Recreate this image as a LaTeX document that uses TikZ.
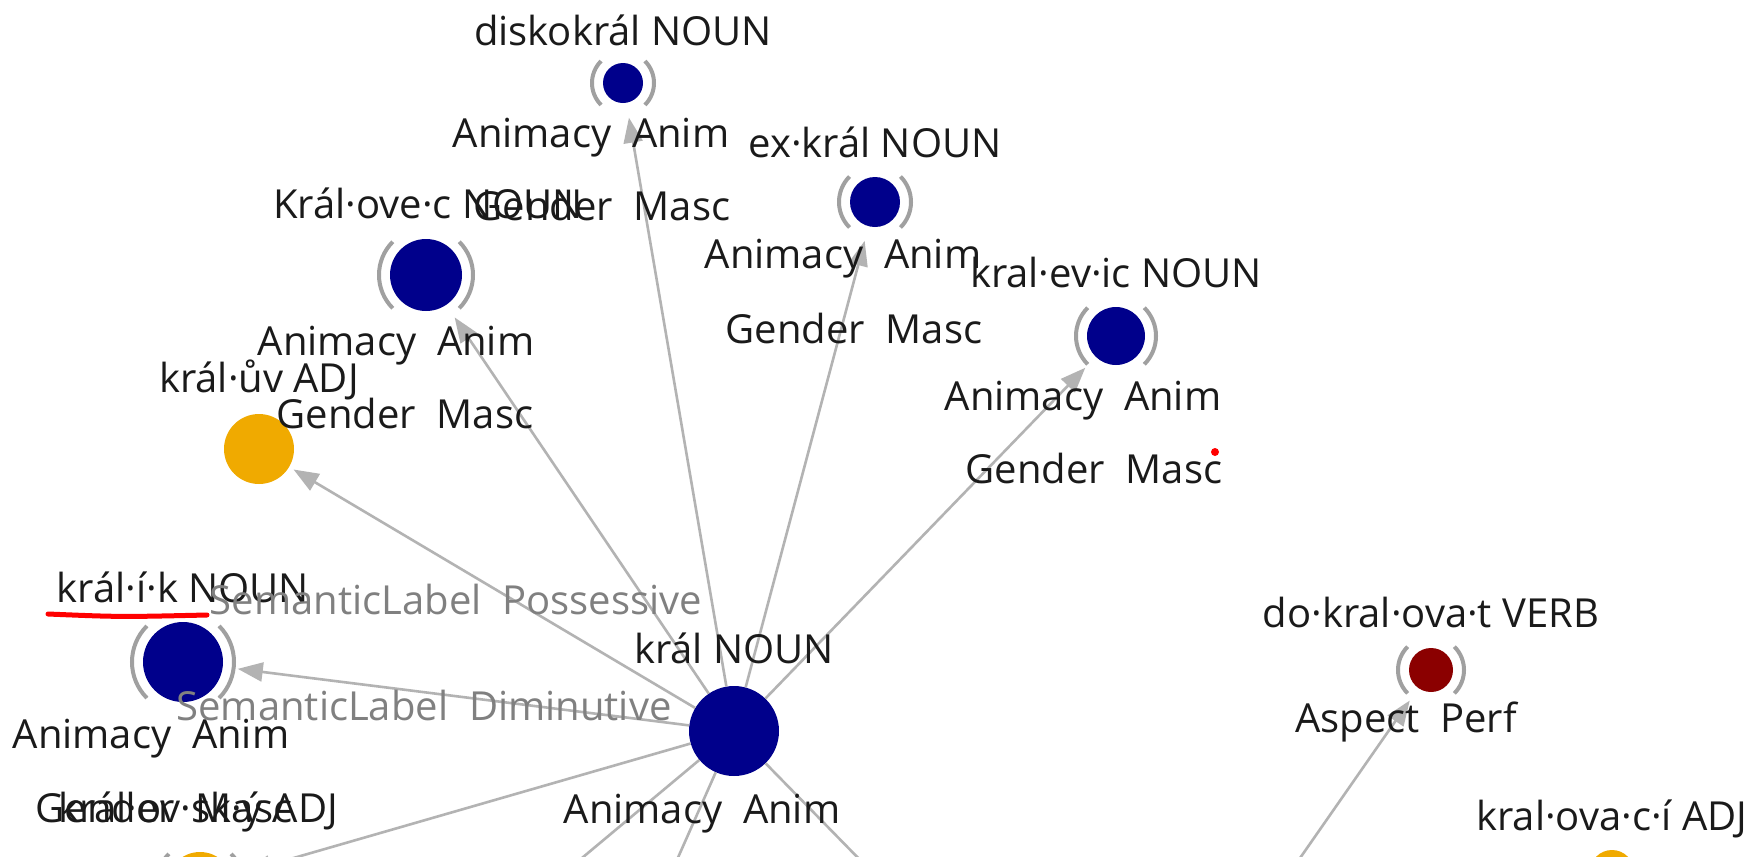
\documentclass[tikz,border=0pt]{standalone}
\usepackage{fontspec}
\setmainfont{Open Sans}
\usetikzlibrary{arrows.meta}
\definecolor{navy}{HTML}{00008B}
\definecolor{dred}{HTML}{8B0000}
\definecolor{gold}{HTML}{F0AA00}
\definecolor{edgec}{HTML}{B3B3B3}
\definecolor{brkc}{HTML}{A0A0A0}
\definecolor{semc}{HTML}{808080}
\definecolor{txtc}{HTML}{1A1A1A}
\newcommand\Vx[6]{%
  \node[circle, inner sep=0pt, minimum size=#6pt] (#1) at (#2,#3) {};
  \fill[#5] (#1.center) circle[radius=#4pt];
}
\newcommand\Bk[2]{%
  \draw[brk] (#1.center) ++(135:#2pt) arc[start angle=135, end angle=225, radius=#2pt];
  \draw[brk] (#1.center) ++(-45:#2pt) arc[start angle=-45, end angle=45, radius=#2pt];
}
\begin{document}
\begin{tikzpicture}[x=1pt,y=-1pt,
  lbl/.style={anchor=base, inner sep=0pt, text=txtc, font=\fontsize{40}{45}\selectfont},
  sem/.style={lbl, text=semc},
  edge/.style={draw=edgec, line width=2.6pt, -{Triangle[length=25pt,width=19pt]}},
  brk/.style={draw=brkc, line width=4pt},
]
\useasboundingbox (0,0) rectangle (1757,857);
\clip (0,0) rectangle (1757,857);
\fill[white] (0,0) rectangle (1757,857);

% nodes
\Vx{kral}{734}{731}{45}{navy}{90}
\Vx{disko}{623}{83}{20}{navy}{70}
\Vx{kralovec}{426}{275}{36}{navy}{102}
\Vx{kraluv}{259}{449}{35}{gold}{80}
\Vx{exkral}{875}{202}{25}{navy}{80}
\Vx{kralevic}{1116}{336}{29}{navy}{88}
\Vx{kralik}{183}{662}{40}{navy}{110}
\Vx{dokral}{1431}{670}{22}{dred}{74}
\Vx{kralov}{200}{885}{33}{gold}{96}
\Vx{kralovaci}{1612}{872}{22}{gold}{74}

\Bk{disko}{31}
\Bk{kralovec}{47}
\Bk{exkral}{36}
\Bk{kralevic}{40}
\Bk{kralik}{51}
\Bk{dokral}{33}
\Bk{kralov}{44}

% off-frame ends
\coordinate (offA) at (412,1000);
\coordinate (offB) at (615,1000);
\coordinate (offC) at (997,1000);
\coordinate (offD) at (1236,950);

% edges
\draw[edge] (kral) -- (disko);
\draw[edge] (kral) -- (kralovec);
\draw[edge] (kral) -- (exkral);
\draw[edge] (kral) -- (kralevic);
\draw[edge] (kral) -- (kraluv);
\draw[edge] (kral) -- (kralik);
\draw[edge] (kral) -- (kralov);
\draw[edge] (kral) -- (offA);
\draw[edge] (kral) -- (offB);
\draw[edge] (kral) -- (offC);
\draw[edge] (offD) -- (dokral);

% labels
\node[lbl] (t1) at (623,45) {diskokrál NOUN};
\node[lbl] (t2) at (591,147) {Animacy\ \ Anim};
\node[lbl] (t3) at (602,220) {Gender\ \ Masc};
\node[lbl] (t4) at (428,218) {Král·ove·c NOUN};
\node[lbl] (t5) at (396,355) {Animacy\ \ Anim};
\node[lbl] (t6) at (405,428) {Gender\ \ Masc};
\node[lbl] (t7) at (259,392) {král·ův ADJ};
\node[lbl] (t8) at (875,157) {ex·král NOUN};
\node[lbl] (t9) at (843,268) {Animacy\ \ Anim};
\node[lbl] (t10) at (854,343) {Gender\ \ Masc};
\node[lbl] (t11) at (1116,287) {kral·ev·ic NOUN};
\node[lbl] (t12) at (1083,410) {Animacy\ \ Anim};
\node[lbl] (t13) at (1094,483) {Gender\ \ Masc};
\node[lbl] (t14) at (183,602) {král·í·k NOUN};
\node[lbl] (t15) at (151,748) {Animacy\ \ Anim};
\node[lbl] (t16) at (164,822) {Gender\ \ Masc};
\node[sem] (t17) at (456,614) {SemanticLabel\ \ Possessive};
\node[sem] (t18) at (424,720) {SemanticLabel\ \ Diminutive};
\node[lbl] (t19) at (734,663) {král NOUN};
\node[lbl] (t20) at (702,823) {Animacy\ \ Anim};
\node[lbl] (t21) at (198,822) {král·ov·sk·ý ADJ};
\node[lbl] (t22) at (1431,627) {do·kral·ova·t VERB};
\node[lbl] (t23) at (1406,732) {Aspect\ \ Perf};
\node[lbl] (t24) at (1612,830) {kral·ova·c·í ADJ};

% annotations
\draw[red, line width=5pt, line cap=round] (48,614) .. controls (120,617) .. (207,615);
\node[circle, fill=red, inner sep=0pt, minimum size=8pt] (reddot) at (1215,452) {};
\end{tikzpicture}
\end{document}
